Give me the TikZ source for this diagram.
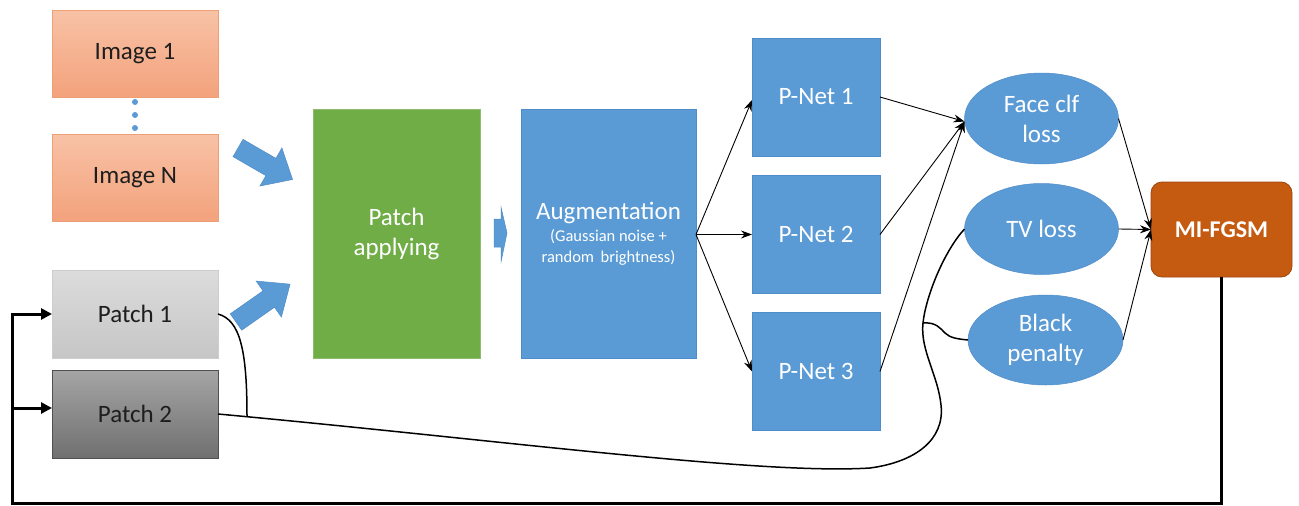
\documentclass[tikz,border=0pt]{standalone}
\usepackage{fontspec}
\setmainfont{Carlito}
\usetikzlibrary{shapes.geometric,arrows.meta,calc}
\definecolor{imgtop}{RGB}{248,194,166}
\definecolor{imgbot}{RGB}{243,162,124}
\definecolor{imgborder}{RGB}{236,160,120}
\definecolor{p1top}{RGB}{220,220,220}
\definecolor{p1bot}{RGB}{198,198,198}
\definecolor{p1border}{RGB}{205,205,205}
\definecolor{p2top}{RGB}{165,165,165}
\definecolor{p2bot}{RGB}{112,112,112}
\definecolor{p2border}{RGB}{80,80,80}
\definecolor{pgreen}{RGB}{112,173,71}
\definecolor{pblue}{RGB}{91,155,213}
\definecolor{pblueborder}{RGB}{80,140,200}
\definecolor{porange}{RGB}{197,90,17}
\definecolor{porangeborder}{RGB}{160,70,15}
\definecolor{darktext}{RGB}{30,30,30}
\newcommand\smalltxt{\fontsize{16.5}{20}\selectfont}
\tikzset{
  x=1pt, y=-1pt,
  every node/.style={inner sep=0pt, outer sep=0pt, align=center},
  bigtext/.style={font=\fontsize{25}{30}\selectfont},
  imgbox/.style={bigtext, rectangle, draw=imgborder, line width=0.8pt, top color=imgtop, bottom color=imgbot, text=darktext, minimum width=166pt, minimum height=87pt},
  patchone/.style={bigtext, rectangle, draw=p1border, line width=0.8pt, top color=p1top, bottom color=p1bot, text=darktext, minimum width=166pt, minimum height=88pt},
  patchtwo/.style={bigtext, rectangle, draw=p2border, line width=0.8pt, top color=p2top, bottom color=p2bot, text=darktext, minimum width=166pt, minimum height=88pt},
  bluebox/.style={bigtext, rectangle, fill=pblue, draw=pblueborder, line width=0.5pt, text=white},
  pnet/.style={bluebox, minimum width=128pt, minimum height=118pt},
  lossell/.style={bigtext, ellipse, fill=pblue, draw=pblueborder, line width=0.5pt, text=white, minimum width=154pt, minimum height=91pt},
  thinarrow/.style={draw=black, line width=0.9pt, -{Stealth[length=11pt,width=8pt]}},
  thinline/.style={draw=black, line width=1.5pt},
  fbline/.style={draw=black, line width=3pt},
  fbarrow/.style={draw=black, line width=3pt, -{Triangle[length=11pt,width=11pt]}},
  blockarrow/.style={fill=pblue, draw=pblueborder, line width=0.5pt}
}
\begin{document}
\begin{tikzpicture}
\useasboundingbox (0,0) rectangle (1299,506);

% left column
\node[imgbox] (im1) at (135,53.5) {Image 1};
\node[imgbox] (imN) at (135,177.5) {Image N};
\node[patchone] (p1) at (135,314) {Patch 1};
\node[patchtwo] (p2) at (135,414) {Patch 2};
\foreach \yy in {102,115,128} \fill[pblue] (135,\yy) circle (3pt);

% main blocks
\node[bigtext, rectangle, fill=pgreen, draw=pgreen!80!white, line width=0.8pt, text=white, minimum width=167pt, minimum height=249pt] (pa) at (396.5,233.5) {Patch\\applying};
\node[bluebox, minimum width=175pt, minimum height=249pt] (aug) at (608.5,233.5) {Augmentation\\[-8pt]\smalltxt (Gaussian noise +\\[-9pt]\smalltxt random\, brightness)};

\node[pnet] (n1) at (816,97) {P-Net 1};
\node[pnet] (n2) at (816,234.5) {P-Net 2};
\node[pnet] (n3) at (816,371.5) {P-Net 3};

\node[lossell] (face) at (1041.5,118.5) {Face clf\\loss};
\node[lossell] (tv) at (1041.5,229) {TV loss};
\node[lossell, minimum width=155pt, minimum height=90pt] (black) at (1045.5,340) {Black\\penalty};

\node[rectangle, rounded corners=11pt, fill=porange, draw=porangeborder, line width=0.8pt, text=white, minimum width=141pt, minimum height=95pt, font=\fontsize{24}{29}\selectfont\bfseries] (mi) at (1221.5,229.5) {MI-FGSM};

% block arrows
\begin{scope}[shift={(238,148)}, rotate=-30]
  \path[blockarrow] (0,-10) -- (38,-10) -- (38,-22) -- (63,0) -- (38,22) -- (38,10) -- (0,10) -- cycle;
\end{scope}
\begin{scope}[shift={(236,322)}, rotate=35]
  \path[blockarrow] (0,-10) -- (40,-10) -- (40,-22) -- (66,0) -- (40,22) -- (40,10) -- (0,10) -- cycle;
\end{scope}
\path[blockarrow] (494,219) -- (501,219) -- (501,207) -- (507,233) -- (501,262) -- (501,247) -- (494,247) -- cycle;

% augmentation to P-Nets
\coordinate (augout) at (aug.east |- n2.west);
\draw[thinarrow] (augout) -- ($(n1.west)+(0,3)$);
\draw[thinarrow] (augout) -- (n2.west);
\draw[thinarrow] (augout) -- (n3.west);

% P-Nets to face loss
\coordinate (facein) at ($(face.west)+(0,3)$);
\draw[thinarrow] (n1.east) -- (facein);
\draw[thinarrow] (n2.east) -- (facein);
\draw[thinarrow] (n3.east) -- (facein);

% losses to MI-FGSM
\draw[thinarrow] (face.east) -- (mi.west);
\draw[thinarrow] (tv.east) -- (mi.west);
\draw[thinarrow] (black.east) -- (mi.west);

% patch curves to TV loss / black penalty
\coordinate (ja) at (870,468);
\coordinate (jm) at (941,405);
\coordinate (jb) at (923,323);
\coordinate (j1) at (247,416);
\draw[thinline] (p2.east) .. controls (500,440) and (760,475) .. (ja)
  .. controls (915,462) and (945,440) .. (jm)
  .. controls (938,375) and (920,350) .. (jb)
  .. controls (926,295) and (945,250) .. (tv.west);
\draw[thinline] (p1.east) .. controls (240,320) and (247,350) .. (j1);
\draw[thinline] (jb) .. controls (936,322) and (940,328) .. (945,333)
  .. controls (950,338) and (958,339) .. (black.west);

% feedback loop
\coordinate (fbc) at (12,503);
\draw[fbline] (mi.south) |- (fbc) -- (12,408);
\draw[fbarrow] (12,409) |- (p1.west);
\draw[fbarrow] (12,408) -- ($(p2.west)+(0,-6)$);
\end{tikzpicture}
\end{document}
